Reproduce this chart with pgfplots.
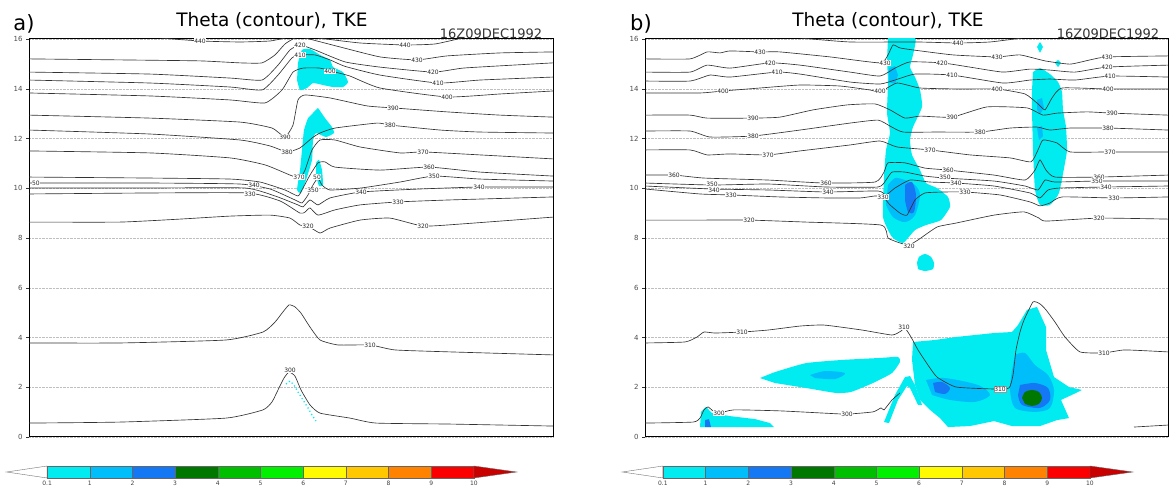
\documentclass[border=0pt]{standalone}
\usepackage{fontspec}
\setmainfont{DejaVu Sans}
\usepackage{pgfplots}
\pgfplotsset{compat=1.18}
\definecolor{tkeA}{RGB}{0,236,240}
\definecolor{tkeB}{RGB}{0,190,250}
\definecolor{tkeC}{RGB}{20,120,245}
\definecolor{tkeD}{RGB}{0,120,0}
\definecolor{tkeE}{RGB}{0,190,0}
\definecolor{tkeF}{RGB}{0,240,0}
\definecolor{tkeG}{RGB}{255,250,0}
\definecolor{tkeH}{RGB}{255,200,0}
\definecolor{tkeI}{RGB}{255,130,0}
\definecolor{tkeJ}{RGB}{250,0,0}
\definecolor{tkeK}{RGB}{200,0,0}
\pgfplotsset{
 panel/.style={scale only axis, anchor=south west, height=398pt, ymin=0, ymax=16,
   ytick={0,2,...,16}, xtick=\empty, ytick pos=left, tick align=outside,
   major tick length=3pt, ymajorgrids, grid style={densely dotted, black!25},
   axis line style={line width=1pt}, tick style={black!80},
   yticklabel style={font=\fontsize{7}{7}\selectfont, text=black!70},
   /pgf/number format/assume math mode=true},
 cl/.style={black!80, line width=0.65pt, smooth, tension=0.3},
 tk/.style={fill=tkeA, draw=none, smooth, tension=0.3},
 cbar/.style={scale only axis, anchor=south west, height=12pt, ymin=0, ymax=1,
   xtick={0,...,10}, xticklabels={0.1,1,2,3,4,5,6,7,8,9,10}, ytick=\empty,
   axis line style={draw=none}, major tick length=0pt, clip=false,
   xticklabel style={font=\fontsize{6}{6}\selectfont, text=black!75},
   /pgf/number format/assume math mode=true}
}
\tikzset{lab/.style={fill=white, inner sep=0.4pt, font=\fontsize{6}{6}\selectfont, text=black!85}}
\newcommand{\colorbarboxes}{%
 \addplot[fill=white, draw=black!55] coordinates {(0,0)(0,1)(-0.95,0.5)} --cycle;
 \addplot[fill=tkeA, draw=black!60] coordinates {(0,0)(1,0)(1,1)(0,1)} --cycle;
 \addplot[fill=tkeB, draw=black!60] coordinates {(1,0)(2,0)(2,1)(1,1)} --cycle;
 \addplot[fill=tkeC, draw=black!60] coordinates {(2,0)(3,0)(3,1)(2,1)} --cycle;
 \addplot[fill=tkeD, draw=black!60] coordinates {(3,0)(4,0)(4,1)(3,1)} --cycle;
 \addplot[fill=tkeE, draw=black!60] coordinates {(4,0)(5,0)(5,1)(4,1)} --cycle;
 \addplot[fill=tkeF, draw=black!60] coordinates {(5,0)(6,0)(6,1)(5,1)} --cycle;
 \addplot[fill=tkeG, draw=black!60] coordinates {(6,0)(7,0)(7,1)(6,1)} --cycle;
 \addplot[fill=tkeH, draw=black!60] coordinates {(7,0)(8,0)(8,1)(7,1)} --cycle;
 \addplot[fill=tkeI, draw=black!60] coordinates {(8,0)(9,0)(9,1)(8,1)} --cycle;
 \addplot[fill=tkeJ, draw=black!60] coordinates {(9,0)(10,0)(10,1)(9,1)} --cycle;
 \addplot[fill=tkeK, draw=black!60] coordinates {(10,0)(10,1)(11.0,0.5)} --cycle;
}
\begin{document}
\begin{tikzpicture}
\useasboundingbox (0,0) rectangle (1171pt,490pt);
% ---------------- panel a ----------------
\node[font=\fontsize{21}{21}\selectfont] at (24pt,466pt) {a)};
\node[font=\fontsize{18.5}{18.5}\selectfont] at (272pt,469pt) {Theta (contour), TKE};
\node[font=\fontsize{13}{13}\selectfont, text=black!80] at (491pt,456pt) {16Z09DEC1992};
\begin{axis}[panel, at={(29pt,53pt)}, width=524pt, xmin=29, xmax=553]
% TKE shading
\addplot[tk] coordinates {(298,15.04)(302,15.56)(310,15.60)(320,15.36)(330,15.16)(333,14.87)(343,14.67)(348,14.27)(343,14.07)(333,14.07)(323,14.15)(313,14.23)(307,14.03)(300,13.95)(297,14.35)} --cycle;
\addplot[tk] coordinates {(318,13.23)(325,12.82)(332,12.46)(334,12.22)(326,12.06)(316,12.22)(313,11.94)(312,11.14)(306,10.33)(301,9.81)(297,9.93)(300,10.73)(302,11.54)(304,12.34)(308,12.82)} --cycle;
\addplot[tk] coordinates {(316,11.02)(319,11.14)(322,10.73)(323,10.13)(319,10.09)(316,10.53)} --cycle;
\addplot[tkeA, dash pattern=on 1.2pt off 2.5pt, line width=1.3pt] coordinates {(286,2.13)(290,2.25)(294,2.09)(298,1.81)(303,1.49)(308,1.17)(312,0.88)(316,0.64)};
% theta contours
\addplot[cl] coordinates {(160,16.04)(200,15.92)(240,15.88)(270,15.92)(285,16.04)};
\addplot[cl] coordinates {(318,16.04)(360,15.84)(405,15.76)(435,15.80)(462,16.04)};
\addplot[cl] coordinates {(29,15.20)(120,15.16)(200,15.12)(240,15.04)(262,15.04)(275,15.36)(285,15.80)(295,16.04)(305,16.04)(340,15.68)(380,15.28)(417,15.16)(447,15.32)(500,15.44)(553,15.48)};
\addplot[cl] coordinates {(29,14.67)(150,14.59)(230,14.43)(262,14.35)(278,14.95)(290,15.56)(300,15.76)(315,15.56)(345,15.08)(380,14.87)(433,14.67)(463,14.83)(513,14.95)(553,15.04)};
\addplot[cl] coordinates {(29,14.35)(150,14.23)(230,14.07)(262,13.95)(278,14.55)(292,15.24)(300,15.36)(315,15.36)(330,15.16)(345,14.90)(380,14.55)(438,14.23)(480,14.35)(553,14.47)};
\addplot[cl] coordinates {(29,13.83)(150,13.71)(230,13.55)(265,13.43)(282,13.95)(293,14.67)(303,14.83)(320,14.83)(335,14.67)(350,14.51)(380,14.03)(447,13.67)(500,13.79)(553,13.91)};
\addplot[cl] coordinates {(29,12.94)(150,12.82)(240,12.66)(272,12.42)(285,12.06)(293,12.54)(298,13.55)(305,13.75)(330,13.63)(367,13.31)(393,13.23)(447,13.07)(500,12.94)(553,12.86)};
\addplot[cl] coordinates {(29,12.34)(150,12.18)(240,11.94)(270,11.70)(287,11.46)(300,11.62)(312,12.02)(320,12.22)(335,12.42)(377,12.62)(390,12.54)(440,12.34)(480,12.26)(553,12.22)};
\addplot[cl] coordinates {(29,11.50)(150,11.42)(230,11.22)(265,10.94)(290,10.53)(300,10.41)(305,10.73)(312,11.54)(320,11.94)(335,11.94)(360,11.66)(400,11.42)(423,11.46)(480,11.34)(553,11.18)};
\addplot[cl] coordinates {(29,10.45)(150,10.41)(230,10.37)(260,10.25)(285,9.93)(298,9.69)(303,10.01)(310,10.53)(318,11.02)(325,11.06)(335,10.85)(380,10.73)(429,10.85)(480,10.65)(553,10.49)};
\addplot[cl] coordinates {(29,10.21)(150,10.21)(240,10.17)(270,9.97)(295,9.53)(302,9.41)(308,9.73)(313,10.13)(318,10.41)(322,10.13)(330,9.93)(361,10.01)(400,10.25)(434,10.49)(480,10.37)(553,10.29)};
\addplot[cl] coordinates {(29,10.01)(150,10.01)(245,10.01)(275,9.69)(298,9.33)(303,9.25)(310,9.53)(318,9.33)(330,9.61)(361,9.85)(420,9.97)(479,10.05)(553,10.05)};
\addplot[cl] coordinates {(29,9.77)(150,9.81)(248,9.81)(280,9.49)(300,9.00)(305,9.04)(310,9.21)(318,8.92)(335,9.13)(360,9.33)(398,9.45)(450,9.53)(553,9.65)};
\addplot[cl] coordinates {(29,8.64)(120,8.64)(180,8.76)(230,8.88)(270,8.92)(290,8.80)(300,8.52)(308,8.48)(320,8.20)(330,8.40)(360,8.72)(390,8.80)(423,8.48)(460,8.56)(553,8.84)};
\addplot[cl] coordinates {(29,3.78)(120,3.78)(226,3.90)(263,4.22)(275,4.62)(282,4.98)(289,5.31)(295,5.23)(301,4.98)(310,4.42)(320,3.90)(338,3.70)(370,3.70)(395,3.50)(451,3.42)(553,3.30)};
\addplot[cl] coordinates {(29,0.56)(120,0.60)(226,0.76)(263,1.09)(272,1.41)(278,1.89)(284,2.37)(289,2.61)(295,2.45)(301,1.89)(310,1.29)(320,0.96)(350,0.76)(376,0.56)(450,0.52)(553,0.44)};
% contour labels
\node[lab] at (axis cs:200,15.92) {440};
\node[lab] at (axis cs:405,15.76) {440};
\node[lab] at (axis cs:417,15.16) {430};
\node[lab] at (axis cs:300,15.76) {420};
\node[lab] at (axis cs:433,14.67) {420};
\node[lab] at (axis cs:300,15.36) {410};
\node[lab] at (axis cs:438,14.23) {410};
\node[lab] at (axis cs:330,14.70) {400};
\node[lab] at (axis cs:447,13.67) {400};
\node[lab] at (axis cs:285,12.06) {390};
\node[lab] at (axis cs:393,13.23) {390};
\node[lab] at (axis cs:287,11.46) {380};
\node[lab] at (axis cs:390,12.54) {380};
\node[lab] at (axis cs:299,10.45) {370};
\node[lab] at (axis cs:317,10.45) {50};
\node[lab] at (axis cs:423,11.46) {370};
\node[lab] at (axis cs:429,10.85) {360};
\node[lab] at (axis cs:36,10.21) {50};
\node[lab] at (axis cs:313,9.90) {350};
\node[lab] at (axis cs:434,10.49) {350};
\node[lab] at (axis cs:254,10.10) {340};
\node[lab] at (axis cs:361,9.85) {340};
\node[lab] at (axis cs:479,10.05) {340};
\node[lab] at (axis cs:250,9.76) {330};
\node[lab] at (axis cs:398,9.45) {330};
\node[lab] at (axis cs:308,8.48) {320};
\node[lab] at (axis cs:423,8.48) {320};
\node[lab] at (axis cs:370,3.70) {310};
\node[lab] at (axis cs:290,2.68) {300};
\end{axis}
\begin{axis}[cbar, at={(7pt,12pt)}, width=513pt, xmin=-0.94, xmax=11.08]
\colorbarboxes
\end{axis}
% ---------------- panel b ----------------
\node[font=\fontsize{21}{21}\selectfont] at (641pt,466pt) {b)};
\node[font=\fontsize{18.5}{18.5}\selectfont] at (888pt,469pt) {Theta (contour), TKE};
\node[font=\fontsize{13}{13}\selectfont, text=black!80] at (1108pt,456pt) {16Z09DEC1992};
\begin{axis}[panel, at={(645pt,53pt)}, width=523pt, xmin=645, xmax=1168]
% TKE shading
\addplot[tk] coordinates {(888,16.04)(915,16.04)(913,15.36)(910,14.87)(915,14.47)(920,13.95)(922,13.27)(913,12.46)(910,11.94)(912,11.34)(920,10.73)(926,10.21)(937,10.01)(948,9.65)(950,9.25)(941,8.72)(926,8.52)(915,8.32)(903,7.80)(892,8.04)(883,8.84)(884,10.45)(886,11.54)(890,12.22)(887,13.03)(888,14.23)(887,15.16)} --cycle;
\addplot[fill=tkeB, draw=none, smooth] coordinates {(888,10.13)(895,10.41)(905,10.33)(915,10.13)(920,9.73)(915,8.92)(905,8.64)(893,8.84)(886,9.33)} --cycle;
\addplot[fill=tkeC, draw=none, smooth] coordinates {(905,10.13)(912,10.25)(916,9.73)(914,9.05)(908,9.05)(905,9.53)} --cycle;
\addplot[fill=tkeB, draw=none] coordinates {(889,14.83)(895,14.91)(898,14.55)(895,14.19)(889,14.27)} --cycle;
\addplot[tk] coordinates {(917,7.00)(919,7.24)(925,7.36)(931,7.24)(934,7.00)(933,6.75)(925,6.67)(918,6.75)} --cycle;
\addplot[fill=tkeA, draw=none] coordinates {(1037,15.68)(1040,15.88)(1043,15.68)(1040,15.44)} --cycle;
\addplot[fill=tkeA, draw=none] coordinates {(1055,15.04)(1058,15.16)(1061,15.04)(1058,14.87)} --cycle;
\addplot[tk] coordinates {(1033,14.67)(1040,14.83)(1050,14.59)(1058,14.27)(1062,13.87)(1063,13.15)(1066,12.46)(1067,11.54)(1065,11.02)(1059,9.81)(1050,9.33)(1040,9.33)(1035,9.93)(1033,11.54)(1032,13.15)(1032,13.95)} --cycle;
\addplot[fill=tkeB, draw=none] coordinates {(1037,13.55)(1042,13.63)(1044,13.23)(1040,12.98)(1037,13.15)} --cycle;
\addplot[fill=tkeB, draw=none] coordinates {(1037,12.42)(1042,12.50)(1043,12.10)(1039,11.94)} --cycle;
\addplot[fill=tkeA, draw=none] coordinates {(700,0.40)(701,1.01)(706,1.21)(712,0.96)(730,0.84)(755,0.72)(770,0.56)(774,0.40)} --cycle;
\addplot[fill=tkeC, draw=none] coordinates {(705,0.68)(709,0.72)(711,0.40)(705,0.40)} --cycle;
\addplot[tk] coordinates {(760,2.37)(775,2.61)(806,2.97)(843,3.10)(881,3.18)(898,3.22)(900,3.02)(892,2.57)(873,2.17)(851,1.81)(836,1.77)(806,1.97)(775,2.17)} --cycle;
\addplot[fill=tkeB, draw=none, smooth] coordinates {(810,2.49)(825,2.65)(845,2.57)(835,2.33)(815,2.37)} --cycle;
\addplot[fill=tkeA, draw=none] coordinates {(884,0.60)(895,1.69)(905,2.41)(910,2.45)(915,2.09)(922,1.29)(918,1.29)(910,1.97)(907,2.05)(898,1.49)(889,0.56)} --cycle;
\addplot[fill=tkeA, draw=none] coordinates {(913,3.82)(935,3.90)(956,4.02)(994,4.18)(1012,4.22)(1018,4.50)(1027,5.11)(1037,5.23)(1046,4.42)(1046,3.50)(1054,2.41)(1069,2.01)(1082,1.89)(1076,1.77)(1061,1.49)(1069,0.76)(1057,0.68)(1040,0.44)(1012,0.44)(994,0.64)(970,0.44)(948,0.40)(940,0.76)(930,1.09)(920,1.49)(915,2.09)(912,3.10)} --cycle;
\addplot[fill=tkeB, draw=none, smooth] coordinates {(926,2.29)(945,2.37)(978,2.09)(990,1.69)(975,1.41)(950,1.49)(932,1.69)} --cycle;
\addplot[fill=tkeC, draw=none, smooth] coordinates {(933,2.17)(942,2.21)(950,1.97)(945,1.73)(935,1.81)} --cycle;
\addplot[fill=tkeB, draw=none, smooth] coordinates {(1015,3.30)(1025,3.38)(1035,2.89)(1048,2.49)(1054,1.89)(1050,1.17)(1035,1.01)(1015,1.17)(1010,1.89)(1012,2.69)} --cycle;
\addplot[fill=tkeC, draw=none, smooth] coordinates {(1020,2.09)(1035,2.17)(1048,1.97)(1050,1.49)(1040,1.17)(1022,1.29)(1018,1.69)} --cycle;
\addplot[fill=tkeD, draw=none, smooth] coordinates {(1022,1.57)(1025,1.81)(1032,1.89)(1039,1.81)(1042,1.57)(1039,1.33)(1032,1.25)(1025,1.33)} --cycle;
% theta contours
\addplot[cl] coordinates {(800,16.04)(850,15.88)(917,15.88)(958,15.84)(990,15.88)(1022,16.04)};
\addplot[cl] coordinates {(645,15.20)(690,15.20)(707,15.48)(720,15.44)(730,15.52)(760,15.48)(780,15.48)(830,15.28)(880,15.04)(888,15.36)(893,15.76)(900,15.64)(913,15.56)(953,15.36)(997,15.28)(1020,15.36)(1045,15.12)(1070,14.99)(1090,15.16)(1107,15.28)(1168,15.32)};
\addplot[cl] coordinates {(645,14.67)(690,14.67)(707,14.95)(730,14.83)(770,15.04)(800,14.95)(850,14.67)(880,14.51)(895,14.83)(910,15.08)(942,15.04)(970,14.87)(1003,14.67)(1030,14.79)(1050,14.75)(1075,14.67)(1107,14.87)(1168,14.95)};
\addplot[cl] coordinates {(645,14.31)(690,14.31)(710,14.55)(730,14.47)(777,14.67)(800,14.59)(850,14.27)(880,14.19)(895,14.35)(915,14.59)(952,14.55)(1003,14.23)(1030,14.35)(1050,14.39)(1075,14.35)(1110,14.51)(1168,14.47)};
\addplot[cl] coordinates {(645,13.83)(700,13.83)(723,13.91)(760,14.03)(800,14.15)(840,14.11)(870,13.95)(880,13.87)(897,14.23)(920,14.03)(960,13.99)(997,13.99)(1025,13.79)(1038,13.39)(1045,13.15)(1052,13.63)(1062,14.03)(1108,13.99)(1168,13.99)};
\addplot[cl] coordinates {(645,12.94)(690,12.94)(707,12.82)(753,12.82)(780,12.86)(813,13.15)(847,13.35)(875,13.39)(890,13.15)(905,12.82)(920,12.90)(952,12.86)(987,13.27)(1027,13.23)(1043,12.94)(1057,13.02)(1087,13.07)(1112,13.02)(1168,12.94)};
\addplot[cl] coordinates {(645,12.30)(690,12.30)(710,12.06)(753,12.10)(800,12.34)(850,12.62)(878,12.74)(890,12.50)(903,12.26)(937,12.26)(980,12.26)(1010,12.42)(1037,12.46)(1050,12.34)(1070,12.42)(1108,12.42)(1168,12.34)};
\addplot[cl] coordinates {(645,11.54)(690,11.54)(707,11.34)(730,11.38)(768,11.34)(800,11.50)(850,11.74)(880,11.90)(897,11.66)(930,11.54)(970,11.34)(1010,11.22)(1031,11.06)(1038,11.54)(1043,11.94)(1057,11.82)(1070,11.46)(1110,11.46)(1168,11.46)};
\addplot[cl] coordinates {(645,10.53)(674,10.53)(704,10.41)(768,10.33)(824,10.21)(875,10.25)(884,10.65)(888,11.02)(905,11.02)(925,10.81)(948,10.73)(994,10.53)(1025,10.33)(1035,10.73)(1040,11.14)(1046,10.73)(1055,10.45)(1099,10.45)(1168,10.53)};
\addplot[cl] coordinates {(645,10.21)(712,10.13)(768,10.17)(826,10.05)(878,10.05)(886,10.33)(892,10.65)(905,10.65)(925,10.49)(945,10.41)(994,10.29)(1025,10.09)(1038,9.93)(1045,10.33)(1055,10.25)(1097,10.29)(1168,10.29)};
\addplot[cl] coordinates {(645,10.09)(712,9.97)(768,9.93)(826,9.85)(878,9.89)(886,9.73)(895,10.01)(910,10.33)(930,10.25)(956,10.21)(994,10.09)(1030,9.81)(1040,9.61)(1048,9.93)(1060,10.01)(1106,10.05)(1168,10.09)};
\addplot[cl] coordinates {(645,9.97)(700,9.77)(731,9.73)(780,9.65)(826,9.61)(860,9.61)(875,9.69)(883,9.65)(890,9.33)(900,9.00)(907,8.92)(915,9.53)(925,9.81)(945,9.85)(965,9.85)(1000,9.73)(1030,9.45)(1040,9.29)(1050,9.41)(1062,9.65)(1114,9.61)(1168,9.65)};
\addplot[cl] coordinates {(645,8.72)(700,8.72)(749,8.72)(806,8.64)(881,8.52)(888,8.00)(900,7.80)(909,7.72)(918,7.92)(937,8.44)(956,8.60)(994,8.92)(1024,9.05)(1039,8.80)(1046,8.68)(1099,8.80)(1168,8.76)};
\addplot[cl] coordinates {(645,3.78)(685,3.82)(697,4.02)(704,4.22)(715,4.18)(742,4.22)(768,4.30)(800,4.46)(824,4.50)(862,4.30)(892,4.10)(901,4.26)(905,4.38)(911,4.02)(918,3.50)(928,2.89)(937,2.41)(956,2.01)(994,1.93)(1009,1.97)(1013,2.49)(1016,3.50)(1020,4.22)(1024,4.70)(1033,5.43)(1040,5.35)(1046,5.11)(1055,4.62)(1065,4.02)(1080,3.42)(1104,3.38)(1125,3.50)(1168,3.42)};
\addplot[cl] coordinates {(645,0.56)(693,0.60)(700,0.76)(704,1.09)(708,1.21)(713,1.05)(719,0.96)(734,1.09)(780,1.05)(824,0.96)(847,0.92)(873,1.01)(881,1.17)(884,1.09)(892,1.49)(900,1.77)};
\addplot[cl] coordinates {(1134,0.40)(1168,0.48)};
% contour labels
\node[lab] at (axis cs:958,15.84) {440};
\node[lab] at (axis cs:760,15.48) {430};
\node[lab] at (axis cs:885,15.04) {430};
\node[lab] at (axis cs:997,15.28) {430};
\node[lab] at (axis cs:1107,15.28) {430};
\node[lab] at (axis cs:770,15.04) {420};
\node[lab] at (axis cs:942,15.04) {420};
\node[lab] at (axis cs:1107,14.87) {420};
\node[lab] at (axis cs:777,14.67) {410};
\node[lab] at (axis cs:952,14.55) {410};
\node[lab] at (axis cs:1110,14.51) {410};
\node[lab] at (axis cs:723,13.91) {400};
\node[lab] at (axis cs:880,13.91) {400};
\node[lab] at (axis cs:997,13.99) {400};
\node[lab] at (axis cs:1108,13.99) {400};
\node[lab] at (axis cs:753,12.82) {390};
\node[lab] at (axis cs:952,12.86) {390};
\node[lab] at (axis cs:1112,13.02) {390};
\node[lab] at (axis cs:753,12.10) {380};
\node[lab] at (axis cs:980,12.26) {380};
\node[lab] at (axis cs:1108,12.42) {380};
\node[lab] at (axis cs:768,11.34) {370};
\node[lab] at (axis cs:930,11.54) {370};
\node[lab] at (axis cs:1110,11.46) {370};
\node[lab] at (axis cs:674,10.53) {360};
\node[lab] at (axis cs:826,10.21) {360};
\node[lab] at (axis cs:948,10.73) {360};
\node[lab] at (axis cs:1099,10.45) {360};
\node[lab] at (axis cs:712,10.15) {350};
\node[lab] at (axis cs:945,10.43) {350};
\node[lab] at (axis cs:1097,10.29) {350};
\node[lab] at (axis cs:714,9.93) {340};
\node[lab] at (axis cs:828,9.85) {340};
\node[lab] at (axis cs:956,10.21) {340};
\node[lab] at (axis cs:1106,10.05) {340};
\node[lab] at (axis cs:731,9.73) {330};
\node[lab] at (axis cs:883,9.65) {330};
\node[lab] at (axis cs:965,9.85) {330};
\node[lab] at (axis cs:1114,9.61) {330};
\node[lab] at (axis cs:749,8.72) {320};
\node[lab] at (axis cs:909,7.68) {320};
\node[lab] at (axis cs:1099,8.80) {320};
\node[lab] at (axis cs:742,4.22) {310};
\node[lab] at (axis cs:904,4.40) {310};
\node[lab, draw=black!40, line width=0.3pt] at (axis cs:1000,1.93) {310};
\node[lab] at (axis cs:1104,3.38) {310};
\node[lab] at (axis cs:719,0.96) {300};
\node[lab] at (axis cs:847,0.92) {300};
\end{axis}
\begin{axis}[cbar, at={(621pt,12pt)}, width=504pt, xmin=-0.98, xmax=10.82]
\colorbarboxes
\end{axis}
\end{tikzpicture}
\end{document}
